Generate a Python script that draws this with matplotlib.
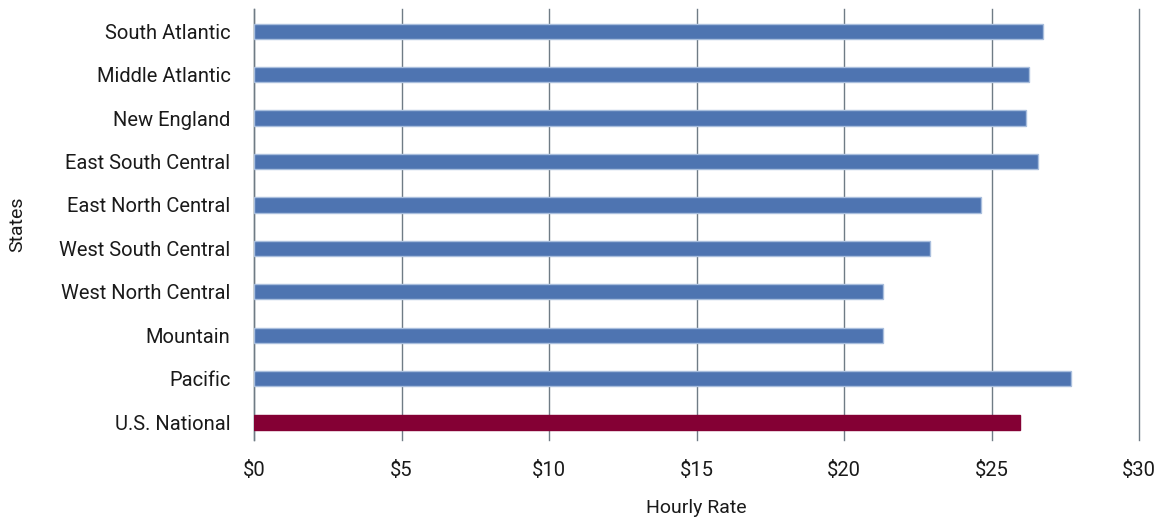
import matplotlib
matplotlib.use("Agg")
import matplotlib.pyplot as plt

categories = ["South Atlantic", "Middle Atlantic", "New England", "East South Central",
              "East North Central", "West South Central", "West North Central",
              "Mountain", "Pacific", "U.S. National"]
values = [26.76, 26.27, 26.16, 26.57, 24.65, 22.93, 21.33, 21.33, 27.68, 25.98]
x_ticks = [0, 5, 10, 15, 20, 25, 30]
x_tick_labels = ["$0", "$5", "$10", "$15", "$20", "$25", "$30"]

plt.rcParams['font.family'] = ['Roboto', 'DejaVu Sans']

fig = plt.figure(figsize=(11.59, 5.19), dpi=100)
ax = fig.add_axes([254/1159, 1-440/519, (1139-254)/1159, (440-9)/519])

colors = ["#4E74B1"] * (len(categories) - 1) + ["#840034"]
edges = ["#A9BEDD"] * (len(categories) - 1) + ["#840034"]
ypos = list(range(len(categories)))
ax.barh(ypos, values, height=0.35, color=colors, edgecolor=edges, linewidth=1, zorder=3)

ax.set_ylim(len(categories) - 1 + 0.41, -0.51)
ax.set_xlim(0, 30)
ax.set_yticks(ypos)
ax.set_yticklabels(categories, fontsize=14.5, color="#1a1a1a")
ax.set_xticks(x_ticks)
ax.set_xticklabels(x_tick_labels, fontsize=14.5, color="#1a1a1a")
ax.tick_params(axis='both', length=0)
ax.tick_params(axis='x', pad=15)
ax.tick_params(axis='y', pad=17)

ax.grid(axis='x', color="#6f7b85", linewidth=1, zorder=0)
for gl in ax.get_xgridlines():
    gl.set_clip_on(False)
for s in ["top", "right", "bottom"]:
    ax.spines[s].set_visible(False)
ax.spines["left"].set_color("#6f7b85")
ax.spines["left"].set_linewidth(1)

ax.set_xlabel("Hourly Rate", fontsize=14, color="#1a1a1a", labelpad=14)
ax.set_ylabel("States", fontsize=14, color="#1a1a1a")
ax.yaxis.set_label_coords(-254/885 + 26/885, 0.5)

fig.savefig("out.png", dpi=100)
